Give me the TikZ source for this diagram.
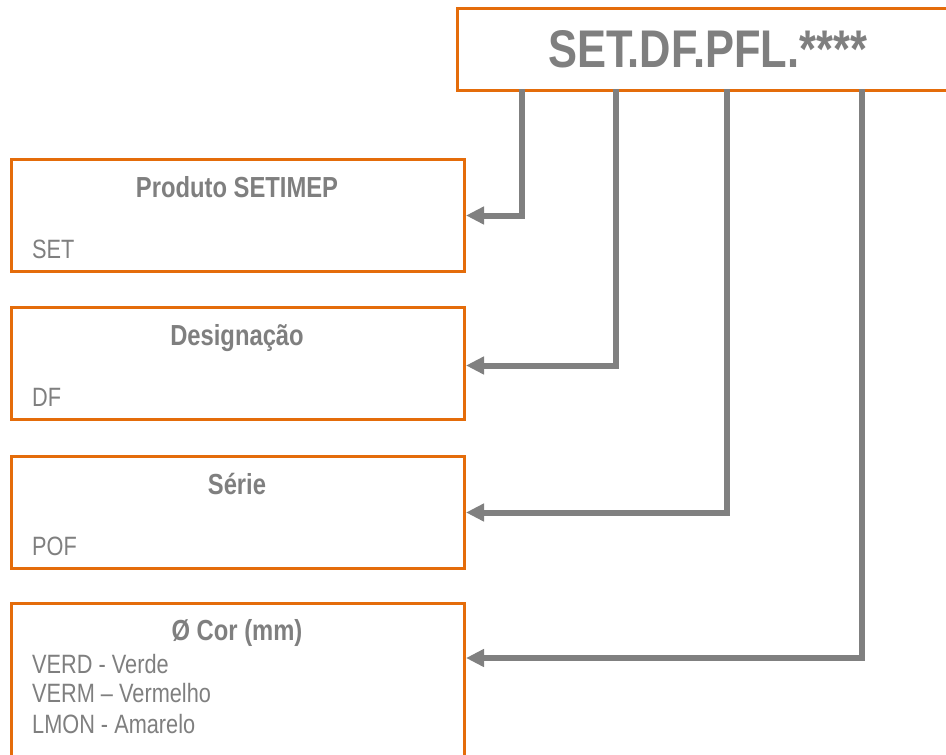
\documentclass[tikz,border=0pt]{standalone}
\usepackage{fontspec}
\setmainfont{Liberation Sans}[FakeStretch=0.82]
\usetikzlibrary{arrows.meta}
\definecolor{orng}{HTML}{E46C0A}
\definecolor{txtgray}{HTML}{7F7F7F}
\definecolor{lngray}{HTML}{808080}
\begin{document}
\begin{tikzpicture}[x=1pt,y=-1pt,
  box/.style={draw=orng,line width=3pt,fill=white,rectangle,inner sep=0pt,anchor=north west},
  ttl/.style={text=txtgray,font=\fontsize{29}{34}\selectfont\bfseries,anchor=base,inner sep=0pt},
  bdy/.style={text=txtgray,font=\fontsize{26.5}{30}\selectfont,anchor=base west,inner sep=0pt},
  conn/.style={draw=lngray,line width=6pt,line join=miter,-{Triangle[length=18pt,width=17pt]}}]
\useasboundingbox (0,0) rectangle (946,755);
% title
\node[box,minimum width=500pt,minimum height=82pt,text=txtgray,font=\fontsize{53}{60}\selectfont\bfseries] (t) at (456,7) {SET.DF.PFL.****};
% boxes
\node[box,minimum width=453pt,minimum height=112pt] (b1) at (10,158) {};
\node[box,minimum width=453pt,minimum height=112pt] (b2) at (10,306) {};
\node[box,minimum width=453pt,minimum height=112pt] (b3) at (10,455) {};
\node[box,minimum width=453pt,minimum height=170pt] (b4) at (10,602) {};
% texts
\node[ttl] (h1) at (237,197) {Produto SETIMEP};
\node[bdy] (s1) at (32,258) {SET};
\node[ttl] (h2) at (237,345) {Designação};
\node[bdy] (s2) at (32,406) {DF};
\node[ttl] (h3) at (237,494) {Série};
\node[bdy] (s3) at (32,555) {POF};
\node[ttl] (h4) at (237,640) {Ø Cor (mm)};
\node[bdy] (s4a) at (32,673) {VERD - Verde};
\node[bdy] (s4b) at (32,702) {VERM – Vermelho};
\node[bdy] (s4c) at (32,733) {LMON - Amarelo};
% connectors
\coordinate (c1) at (522,89);
\coordinate (c2) at (616,89);
\coordinate (c3) at (727,89);
\coordinate (c4) at (862,89);
\coordinate (e4) at ([yshift=-56pt]b4.north east);
\draw[conn] (c1) |- (b1.east);
\draw[conn] (c2) |- ([yshift=-2pt]b2.east);
\draw[conn] (c3) |- (b3.east);
\draw[conn] (c4) |- (e4);
\end{tikzpicture}
\end{document}
